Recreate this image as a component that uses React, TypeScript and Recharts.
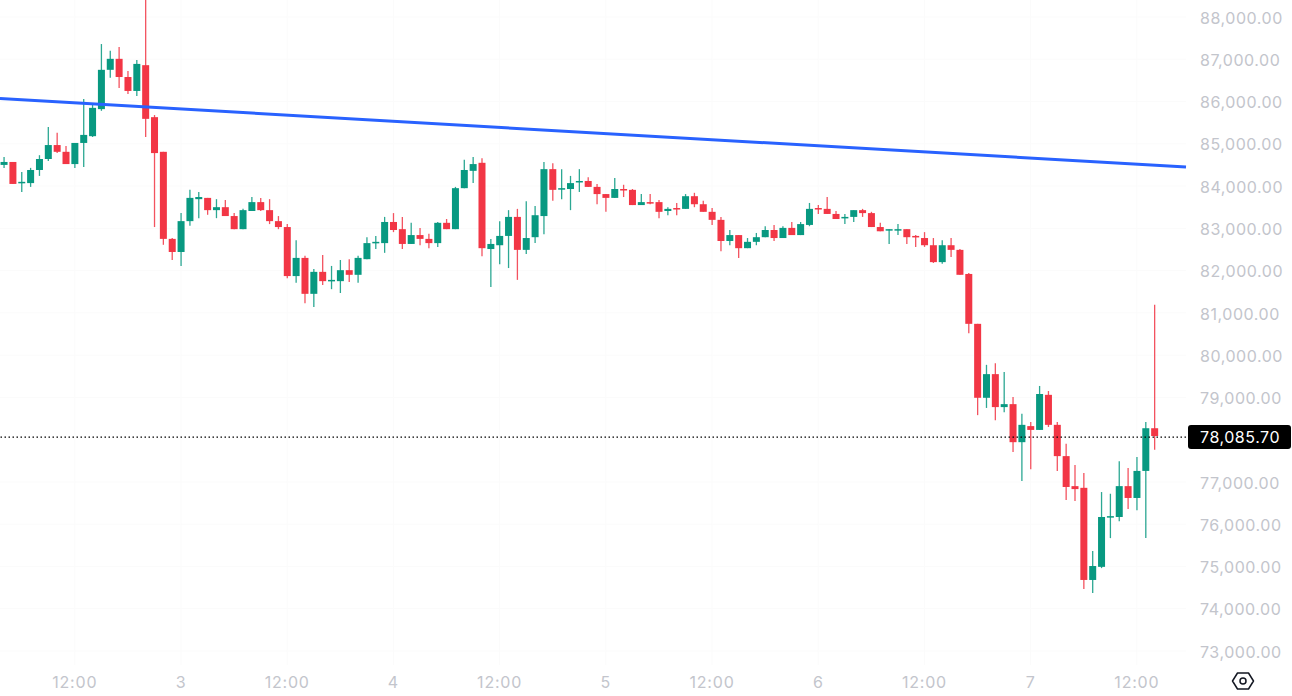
import { Bar, CartesianGrid, ComposedChart, ReferenceLine, XAxis, YAxis } from "recharts"

// hourly BTC candles
const opens = [84500,84570,84070,84070,84380,84640,84970,84810,84520,85020,85180,85820,86750,87010,86580,86250,86860,85630,84810,82750,82440,83170,83690,83720,83430,83500,83290,82980,83410,83620,83430,83170,83030,81870,82300,81450,81970,81750,81750,82010,81900,82270,82650,82650,83150,82980,82630,82840,82750,82650,83130,82980,83950,84360,84550,82510,82600,82820,83270,82490,82790,83290,84400,83930,83930,84100,84120,83980,83810,83720,83930,83910,83550,83620,83620,83410,83480,83460,83760,83570,83390,83200,82700,82840,82530,82680,82790,82960,82770,83010,82840,83080,83480,83460,83340,83240,83270,83430,83360,83030,82960,82960,82980,82820,82770,82600,82200,82600,82490,81920,80740,78990,79550,78770,78840,77940,78320,78230,79060,78350,77610,76900,76860,74680,74990,76170,76170,76900,76620,77260,78270]
const highs = [84690,84570,84330,84430,84730,85400,85260,84950,85020,86060,85940,87360,87200,87290,86720,86980,88640,85680,84810,82770,83360,83910,83860,83720,83690,83670,83360,83460,83740,83720,83690,83290,83100,82720,82350,82040,82370,82110,82250,82270,82350,82790,82820,83270,83360,83270,83130,83010,82870,83150,83220,83980,84620,84690,84660,82750,83170,83430,83460,83640,83530,84570,84540,84400,84240,84400,84210,84050,83810,84190,84030,83930,83810,83810,83670,83500,83600,83810,83840,83650,83480,83270,82960,82840,82770,82890,83050,83080,83050,83150,83150,83600,83550,83740,83410,83340,83430,83460,83390,83130,82980,83100,82980,82840,82910,82770,82720,82770,82510,81940,80740,79770,79810,79600,79010,78610,78420,79270,79150,78420,77900,77400,77210,75365,76760,76720,77490,77330,77590,78420,81190]
const lows = [84430,84050,83860,83980,84240,84590,84780,84520,84430,84450,85160,85780,86560,86320,86180,86130,85160,83030,82610,82250,82110,83060,83240,83320,83240,83290,82980,82980,83410,83410,83100,82980,81820,81710,81230,81140,81660,81560,81470,81730,81710,82270,82510,82420,82910,82510,82630,82600,82530,82560,82980,82980,83950,84070,82340,81610,82150,82060,81780,82390,82650,82860,83650,83690,83430,83860,83980,83570,83390,83720,83740,83550,83550,83570,83240,83310,83310,83460,83500,83390,83080,82460,82600,82300,82530,82600,82790,82700,82770,82840,82840,83050,83340,83340,83220,83100,83150,83270,83030,82930,82630,82840,82630,82560,82560,82180,82160,82320,81900,80520,78580,78750,78460,78650,77710,77020,77300,78230,78300,77260,76570,76550,74466,74370,74960,75670,76070,76360,76330,75670,77760]
const closes = [84570,84050,84100,84380,84640,84970,84810,84520,85020,85210,85850,86750,87010,86580,86250,86890,85590,84780,82750,82440,83170,83720,83740,83430,83500,83290,82980,83430,83620,83430,83170,83030,81870,82300,81450,81970,81750,81780,82010,81900,82300,82650,82680,83150,82960,82630,82840,82750,82650,83130,82980,83950,84380,84520,82530,82630,82820,83270,82490,82770,83310,84400,83910,83950,84070,84120,83980,83810,83720,83930,83910,83550,83620,83600,83390,83460,83460,83760,83570,83390,83200,82700,82840,82530,82680,82790,82960,82770,83010,82840,83100,83460,83460,83340,83220,83270,83430,83360,83030,82930,82980,82980,82790,82790,82600,82200,82600,82490,81900,80740,78990,79550,78770,78840,77940,78350,78230,79080,78350,77610,76880,76830,74680,75010,76170,76190,76900,76620,77260,78270,78085.7]

// 78,000 is hidden behind the last price tag
const priceTicks = [73000,74000,75000,76000,77000,79000,80000,81000,82000,83000,84000,85000,86000,87000,88000]
const timeTicks = [8,20,32,44,56,68,80,92,104,116,128]
const timeLabels = ["12:00","3","12:00","4","12:00","5","12:00","6","12:00","7","12:00"]

const lastPrice = 78085.7
const priceLineLevel = 78060 // the dotted line sits about a pixel under the close in the picture
const trendStart = { x: -0.45, y: 86070 }
const trendEnd = { x: 133.55, y: 84450 }

const UP = "#089981"
const DOWN = "#F23645"
const AXIS_TEXT = "#C3C5CC"
const FONT = "Inter, 'Noto Sans', sans-serif"

const rows = opens.map((open, i) => ({
  t: i,
  open,
  close: closes[i],
  high: highs[i],
  low: lows[i],
  range: [lows[i], highs[i]]
}))

function Candle(props: any) {
  const { x, y, width, height, payload } = props
  const color = payload.close >= payload.open ? UP : DOWN
  const k = Math.abs(height) / (payload.high - payload.low)
  const top = y + (payload.high - Math.max(payload.open, payload.close)) * k
  const bodyH = Math.max(Math.abs(payload.open - payload.close) * k, 1.5)
  const mid = x + width / 2
  return (
    <g>
      <line x1={mid} x2={mid} y1={y} y2={y + Math.abs(height)} stroke={color} strokeWidth={1.3} opacity={0.85} />
      <rect x={x} y={top} width={width} height={bodyH} fill={color} />
    </g>
  )
}

function PriceTag(props: any) {
  const { viewBox } = props
  const left = viewBox.x + viewBox.width + 2
  const mid = viewBox.y
  return (
    <g>
      <rect x={left} y={mid - 12} width={103} height={24} rx={3} fill="#000" />
      <text x={left + 12} y={mid + 6} fill="#fff" fontSize={16} fontFamily={FONT} letterSpacing={0.55}>
        {lastPrice.toLocaleString("en-US", { minimumFractionDigits: 2 })}
      </text>
    </g>
  )
}

export default function App() {
  return (
    <div style={{ position: "absolute", left: 0, top: 0, width: 1292, height: 696, overflow: "hidden", background: "#fff" }}>
      <ComposedChart width={1292} height={696} data={rows} margin={{ top: 0, right: 0, bottom: 0, left: 0 }}>
        <CartesianGrid stroke="#FBFBFB" horizontalValues={priceTicks} verticalValues={timeTicks} />
        <XAxis
          dataKey="t"
          type="number"
          domain={[-0.45, 133.55]}
          allowDataOverflow
          ticks={timeTicks}
          interval={0}
          height={31}
          axisLine={false}
          tickLine={false}
          tickMargin={6}
          tick={{ fill: AXIS_TEXT, fontSize: 16, fontFamily: FONT, letterSpacing: 0.8 }}
          tickFormatter={(v: number) => timeLabels[timeTicks.indexOf(v)]}
        />
        <YAxis
          orientation="right"
          type="number"
          domain={[72668, 88402]}
          allowDataOverflow
          ticks={priceTicks}
          interval={0}
          width={106}
          axisLine={false}
          tickLine={false}
          tickMargin={8}
          dy={1}
          tick={{ fill: AXIS_TEXT, fontSize: 16, fontFamily: FONT, letterSpacing: 0.55 }}
          tickFormatter={(v: number) => v.toLocaleString("en-US", { minimumFractionDigits: 2 })}
        />
        <Bar dataKey="range" barSize={7} shape={Candle} isAnimationActive={false} />
        <ReferenceLine
          segment={[trendStart, trendEnd]}
          stroke="#2962FF"
          strokeWidth={3}
        />
        <ReferenceLine
          y={priceLineLevel}
          stroke="#000"
          strokeWidth={1.4}
          strokeDasharray="1.5 2.5"
          label={PriceTag}
        />
      </ComposedChart>
      <svg width={24} height={20} style={{ position: "absolute", left: 1231, top: 671 }}>
        <path d="M1.5 10 L6.5 2 H17.5 L22.5 10 L17.5 18 H6.5 Z" fill="none" stroke="#131722" strokeWidth={1.5} strokeLinejoin="round" />
        <circle cx={12} cy={10} r={3} fill="none" stroke="#131722" strokeWidth={1.5} />
      </svg>
    </div>
  )
}
